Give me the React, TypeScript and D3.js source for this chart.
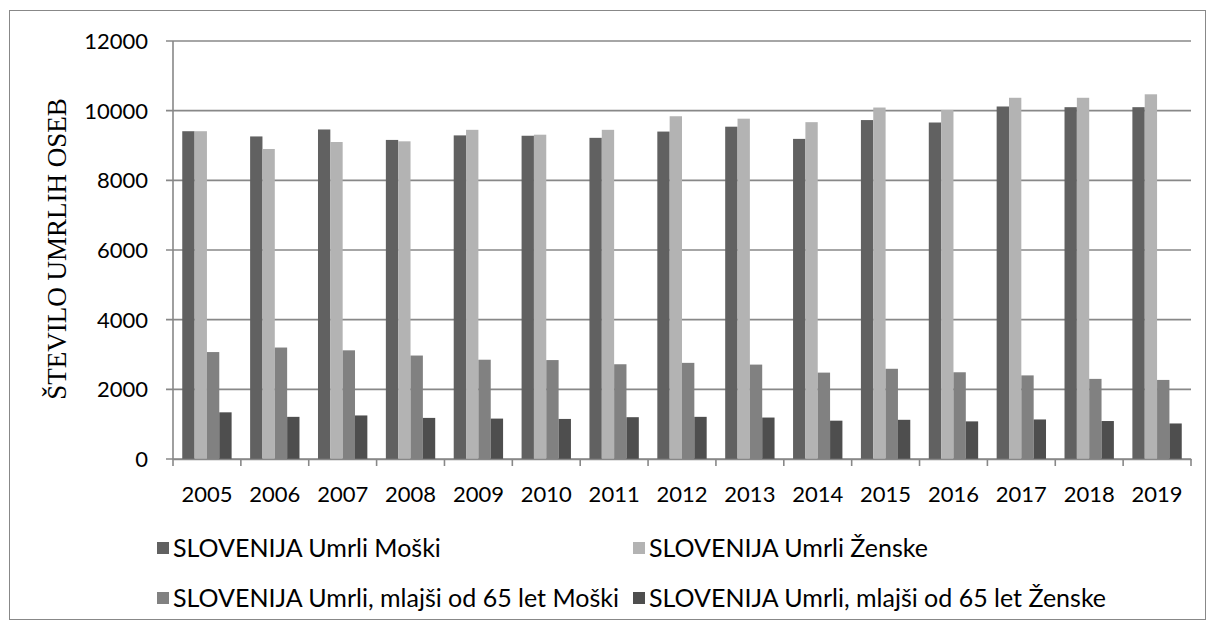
import React from "react";
import * as d3 from "d3";

const years = ["2005", "2006", "2007", "2008", "2009", "2010", "2011", "2012", "2013", "2014", "2015", "2016", "2017", "2018", "2019"];
const umrliMoski = [9410, 9260, 9460, 9160, 9290, 9280, 9220, 9400, 9540, 9190, 9730, 9660, 10120, 10100, 10100];
const umrliZenske = [9410, 8900, 9100, 9120, 9450, 9310, 9450, 9840, 9770, 9670, 10090, 10020, 10370, 10370, 10470];
const mlajsiMoski = [3070, 3200, 3120, 2970, 2850, 2840, 2720, 2760, 2710, 2480, 2590, 2490, 2400, 2300, 2270];
const mlajsiZenske = [1340, 1210, 1250, 1180, 1160, 1150, 1200, 1210, 1190, 1100, 1125, 1080, 1135, 1090, 1020];
const seriesNames = [
  "SLOVENIJA Umrli Moški",
  "SLOVENIJA Umrli Ženske",
  "SLOVENIJA Umrli, mlajši od 65 let Moški",
  "SLOVENIJA Umrli, mlajši od 65 let Ženske",
];
const seriesColors = ["#616161", "#b3b3b3", "#818181", "#4e4e4e"];
const yTicks = [0, 2000, 4000, 6000, 8000, 10000, 12000];
const yTitle = "ŠTEVILO UMRLIH OSEB";

export default function App() {
  const svgRef = React.useRef(null);
  const width = 1208;
  const height = 628;
  const plot = { left: 173, right: 1191, top: 41, bottom: 459 };
  const labelFont = "Lato, 'Open Sans', sans-serif";
  const gridColor = "#888888";

  React.useEffect(() => {
    const allSeries = [umrliMoski, umrliZenske, mlajsiMoski, mlajsiZenske];
    const svg = d3.select(svgRef.current);
    svg.selectAll("*").remove();

    // outer frame
    svg.append("rect")
      .attr("x", 9.5).attr("y", 10.5)
      .attr("width", 1196).attr("height", 609)
      .attr("fill", "white")
      .attr("stroke", gridColor)
      .attr("stroke-width", 1);

    const x = d3.scaleBand()
      .domain(years)
      .range([plot.left, plot.right])
      .paddingInner(0.2727)
      .paddingOuter(0.13635);
    const xInner = d3.scaleBand()
      .domain(d3.range(allSeries.length).map(String))
      .range([0, x.bandwidth()]);
    const y = d3.scaleLinear().domain([0, 12000]).range([plot.bottom, plot.top]);

    // gridlines
    svg.append("g")
      .selectAll("line")
      .data(yTicks)
      .enter()
      .append("line")
      .attr("x1", plot.left - 7)
      .attr("x2", plot.right)
      .attr("y1", d => y(d))
      .attr("y2", d => y(d))
      .attr("stroke", gridColor)
      .attr("stroke-width", 1.6);

    // y axis labels
    svg.append("g")
      .selectAll("text")
      .data(yTicks)
      .enter()
      .append("text")
      .attr("x", 148)
      .attr("y", d => y(d))
      .attr("dy", "0.36em")
      .attr("text-anchor", "end")
      .style("font-family", labelFont)
      .style("font-size", "22px")
      .attr("fill", "#000")
      .text(d => d);

    // bars
    const groups = svg.append("g")
      .selectAll("g")
      .data(years)
      .enter()
      .append("g")
      .attr("transform", d => `translate(${x(d)},0)`);
    groups.selectAll("rect")
      .data((d, i) => allSeries.map((s, k) => ({ k, v: s[i] })))
      .enter()
      .append("rect")
      .attr("x", d => xInner(String(d.k)))
      .attr("width", xInner.bandwidth())
      .attr("y", d => y(d.v))
      .attr("height", d => y(0) - y(d.v))
      .attr("fill", d => seriesColors[d.k]);

    // axis lines
    svg.append("line")
      .attr("x1", plot.left).attr("x2", plot.left)
      .attr("y1", plot.top).attr("y2", plot.bottom)
      .attr("stroke", gridColor).attr("stroke-width", 1.6);
    const xAxis = d3.axisBottom(x).tickSize(0).tickPadding(27);
    const gx = svg.append("g")
      .attr("transform", `translate(0,${plot.bottom})`)
      .call(xAxis);
    gx.select(".domain").attr("stroke", gridColor).attr("stroke-width", 1.6);
    gx.selectAll("text")
      .style("font-family", labelFont)
      .style("font-size", "22px")
      .attr("fill", "#000");
    gx.selectAll(".boundary")
      .data(d3.range(years.length + 1))
      .enter()
      .append("line")
      .attr("x1", i => plot.left + i * x.step())
      .attr("x2", i => plot.left + i * x.step())
      .attr("y1", 0)
      .attr("y2", 7)
      .attr("stroke", gridColor)
      .attr("stroke-width", 1.6);

    // y title
    svg.append("text")
      .attr("transform", `translate(66,249) rotate(-90)`)
      .attr("text-anchor", "middle")
      .style("font-family", "'Liberation Serif', serif")
      .style("font-size", "27px")
      .attr("fill", "#000")
      .text(yTitle);

    // legend
    const legendPos = [[157, 548], [633, 548], [157, 598], [633, 598]];
    const legend = svg.append("g")
      .selectAll("g")
      .data(seriesNames)
      .enter()
      .append("g")
      .attr("transform", (d, i) => `translate(${legendPos[i][0]},${legendPos[i][1]})`);
    legend.append("rect")
      .attr("x", 0).attr("y", -6)
      .attr("width", 12).attr("height", 12)
      .attr("fill", (d, i) => seriesColors[i]);
    legend.append("text")
      .attr("x", 16)
      .attr("dy", "0.36em")
      .style("font-family", labelFont)
      .style("font-size", "25px")
      .attr("fill", "#000")
      .text(d => d);
  }, []);

  return (
    <svg
      ref={svgRef}
      width={width}
      height={height}
      style={{ position: "absolute", left: 0, top: 0, background: "#fff" }}
    />
  );
}
